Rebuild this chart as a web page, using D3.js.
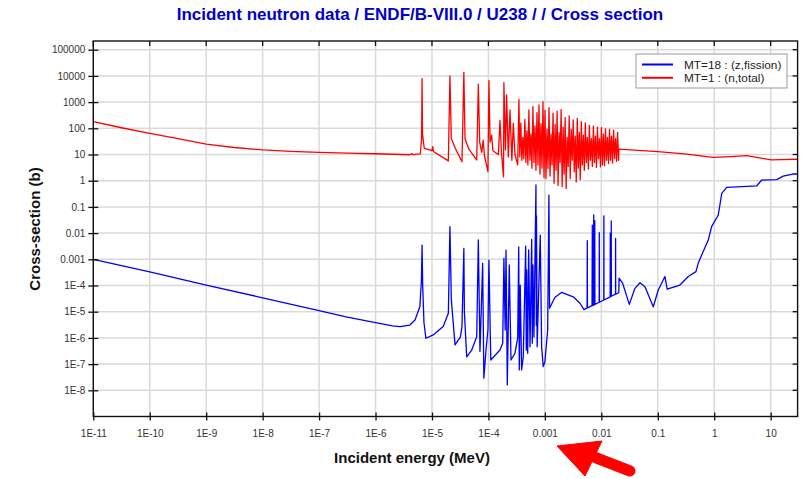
<!DOCTYPE html>
<html><head><meta charset="utf-8">
<script src="https://cdn.jsdelivr.net/npm/d3@7"></script>
<style>body{margin:0;background:#fff;}svg{display:block;}</style>
</head><body>
<svg id="chart" width="805" height="479"></svg>
<script>
// ---------- data ----------
const chartTitle = "Incident neutron data / ENDF/B-VIII.0 / U238 / / Cross section";
const xAxisTitle = "Incident energy (MeV)";
const yAxisTitle = "Cross-section (b)";
const seriesNames = ["MT=18 : (z,fission)", "MT=1 : (n,total)"];
const seriesColors = ["#0000ff", "#ff0000"];

const xTickValues = [1e-11,1e-10,1e-9,1e-8,1e-7,1e-6,1e-5,1e-4,1e-3,1e-2,1e-1,1,10];
const xTickLabels = ["1E-11","1E-10","1E-9","1E-8","1E-7","1E-6","1E-5","1E-4","0.001","0.01","0.1","1","10"];
const yTickValues = [1e-8,1e-7,1e-6,1e-5,1e-4,1e-3,1e-2,1e-1,1,10,100,1000,10000,100000];
const yTickLabels = ["1E-8","1E-7","1E-6","1E-5","1E-4","0.001","0.01","0.1","1","10","100","1000","10000","100000"];

// MT=18 fission cross section [energy MeV, barns]
const fissionPoints = [
 [1e-11,1.0e-3],[1e-10,3.3e-4],[1e-9,1.04e-4],[1e-8,3.4e-5],[1e-7,1.09e-5],[3e-7,6.4e-6],[1e-6,3.8e-6],
 [2e-6,2.9e-6],[2.71e-6,2.7e-6],[4.07e-6,3.1e-6],[5.0e-6,4.8e-6],[6.1e-6,1.55e-5],[6.5e-6,1.5e-4],[6.67e-6,3.5e-3],
 [6.85e-6,1.0e-4],[7.2e-6,4e-6],[7.8e-6,9.7e-7],[1.05e-5,1.3e-6],[1.58e-5,2.7e-6],[1.95e-5,8.7e-6],
 [2.08e-5,1.76e-2],[2.2e-5,3e-5],[2.56e-5,5.4e-7],[3.19e-5,1.1e-6],[3.4e-5,2.7e-6],[3.67e-5,2.6e-3],
 [3.75e-5,1e-5],[4.12e-5,1.9e-7],[5.05e-5,3.45e-7],[6.2e-5,1.1e-6],[6.62e-5,5.5e-3],[7.08e-5,3.0e-7],
 [7.9e-5,7.0e-4],[8.3e-5,2.9e-8],[9.06e-5,3.45e-7],[9.8e-5,2e-6],[1.02e-4,9.3e-4],[1.1e-4,1.43e-7],
 [1.6e-4,3.45e-7],[1.79e-4,6.2e-7],[1.88e-4,1.09e-3],[1.98e-4,2e-6],[2.05e-4,2.26e-3],[2.16e-4,1.6e-8],
 [2.34e-4,6.1e-4],[2.51e-4,1.43e-7],[2.95e-4,2.6e-7],[3.3e-4,1e-6],[3.44e-4,3.0e-3],[3.52e-4,6e-8],
 [3.66e-4,1.04e-4],[3.87e-4,6e-8],[4.14e-4,1.9e-7],[4.57e-4,3.2e-3],[4.68e-4,3.4e-7],[4.76e-4,3.9e-4],
 [4.96e-4,2.6e-7],[5.16e-4,2.3e-3],[5.46e-4,4.6e-7],[5.84e-4,5.8e-3],[5.98e-4,6.2e-7],[6.15e-4,6.1e-4],
 [6.4e-4,1.1e-6],[6.95e-4,0.685],[7.05e-4,3e-6],[7.1e-4,0.045],[7.3e-4,4.6e-7],[8.28e-4,8.4e-3],
 [8.76e-4,4.6e-7],[9.35e-4,8e-8],[1.0e-3,1.2e-7],[1.12e-3,2e-6],[1.18e-3,0.284],[1.21e-3,1.35e-5],
 [1.5e-3,3.5e-5],[1.99e-3,5.5e-5],[3.18e-3,3.7e-5],[4.19e-3,2.1e-5],[4.93e-3,1.2e-5],
 [5.6e-3,1.4e-5],[5.64e-3,5.2e-3],[5.68e-3,1.4e-5],
 [6.85e-3,1.7e-5],[6.92e-3,0.02],[6.97e-3,1.7e-5],
 [7.28e-3,1.8e-5],[7.33e-3,0.05],[7.38e-3,1.8e-5],
 [7.6e-3,1.9e-5],[7.65e-3,0.03],[7.7e-3,1.9e-5],
 [9.15e-3,2.3e-5],[9.2e-3,0.0103],[9.25e-3,2.3e-5],
 [1.105e-2,2.8e-5],[1.11e-2,0.045],[1.115e-2,2.8e-5],
 [1.435e-2,3.7e-5],[1.44e-2,0.01],[1.445e-2,3.7e-5],
 [1.495e-2,3.9e-5],[1.50e-2,0.029],[1.505e-2,3.9e-5],
 [1.785e-2,4.7e-5],[1.79e-2,6.3e-3],[1.795e-2,4.7e-5],
 [2.04e-2,5.3e-5],[2.06e-2,1.9e-4],[2.39e-2,1.2e-4],[3.13e-2,1.9e-5],[3.94e-2,7.8e-5],[4.84e-2,1.28e-4],
 [5.93e-2,9e-5],[8.32e-2,1.55e-5],[0.102,6.7e-5],[0.134,2.2e-4],[0.147,7.2e-5],[0.247,1.04e-4],
 [0.347,2.2e-4],[0.475,3.4e-4],[0.52,7e-4],[0.6,1.46e-3],[0.785,5.5e-3],[0.9,0.0176],[1.18,0.049],
 [1.36,0.33],[1.66,0.56],[5.65,0.63],[6.93,1.06],[12.8,1.1],[16.7,1.5],[24.8,1.8],[30,1.8]
];

// MT=1 total cross section, smooth + isolated resonances
const totalLowPoints = [
 [1e-11,179],[3.16e-11,105],[1e-10,64],[3.16e-10,40],[1e-9,25],[3.16e-9,18.5],[1e-8,14.9],[3.16e-8,13.2],
 [1e-7,12.1],[3.16e-7,11.3],[1e-6,10.7],[4.07e-6,9.8],[4.4e-6,11],[4.6e-6,9.9],
 [6.2e-6,10.5],[6.55e-6,40],[6.67e-6,8000],[6.8e-6,60],[7.3e-6,17],[1.0e-5,14],[1.03e-5,20],[1.06e-5,13],
 [1.95e-5,5.7],[2.08e-5,10000],[2.2e-5,40],[2.6e-5,17],[3.4e-5,5.3],[3.67e-5,13700],[3.85e-5,40],[4.5e-5,16],
 [6.2e-5,6.2],[6.62e-5,4800],[7.0e-5,30],[7.6e-5,12],[8.08e-5,35],[8.5e-5,9],[9.8e-5,2.2],[1.02e-4,6600],
 [1.07e-4,30],[1.14e-4,55],[1.2e-4,14],[1.5e-4,10],[1.6e-4,200],[1.7e-4,12],[1.85e-4,1.4],[1.88e-4,5500],
 [2.0e-4,15],[2.1e-4,1870],[2.25e-4,8],[2.41e-4,500],[2.6e-4,6],[2.76e-4,155],[2.95e-4,10],[3.3e-4,4],[3.47e-4,1270]
];
// MT=1 total, dense resolved resonance region
const totalDensePoints = [
 [3.60e-4,8],[3.75e-4,160],[3.91e-4,6],[4.07e-4,45],[4.24e-4,7],[4.42e-4,220],[4.61e-4,5],[4.80e-4,80],
 [5.00e-4,4],[5.21e-4,500],[5.43e-4,6],[5.66e-4,60],[5.90e-4,3],[6.14e-4,680],[6.40e-4,5],[6.67e-4,120],
 [6.95e-4,2.5],[7.24e-4,400],[7.54e-4,4],[7.86e-4,780],[8.19e-4,1.8],[8.53e-4,150],[8.89e-4,3],[9.26e-4,1050],
 [9.65e-4,1.3],
 [1.005e-3,480],[1.047e-3,1.2],[1.091e-3,90],[1.137e-3,3],[1.185e-3,620],[1.234e-3,1.5],[1.286e-3,60],[1.340e-3,4],
 [1.396e-3,380],[1.455e-3,0.8],[1.516e-3,140],[1.580e-3,2.5],[1.646e-3,450],[1.715e-3,0.65],[1.787e-3,70],[1.862e-3,5],
 [1.940e-3,520],[2.022e-3,0.6],[2.107e-3,110],[2.195e-3,1.8],[2.287e-3,260],[2.383e-3,0.5],[2.483e-3,45],[2.588e-3,3.5],
 [2.696e-3,300],[2.810e-3,1.2],[2.928e-3,90],[3.050e-3,6],[3.178e-3,210],[3.312e-3,2.2],[3.451e-3,50],[3.596e-3,0.9],
 [3.747e-3,240],[3.904e-3,3],[4.068e-3,70],[4.239e-3,1.1],[4.417e-3,180],[4.603e-3,4],[4.796e-3,55],[4.998e-3,2.5],
 [5.208e-3,160],[5.426e-3,5],[5.654e-3,45],[5.892e-3,2.8],[6.139e-3,130],[6.397e-3,6],[6.666e-3,40],[6.946e-3,3.5],
 [7.238e-3,120],[7.542e-3,5],[7.859e-3,50],[8.189e-3,3.2],[8.533e-3,110],[8.891e-3,7],[9.265e-3,40],[9.654e-3,3.4],
 [1.006e-2,105],[1.048e-2,4],[1.092e-2,60],[1.138e-2,3.8],[1.186e-2,95],[1.236e-2,6],[1.288e-2,45],[1.342e-2,4.5],
 [1.398e-2,90],[1.457e-2,6],[1.518e-2,50],[1.582e-2,4.8],[1.648e-2,85],[1.717e-2,7],[1.789e-2,40],[1.865e-2,5.5],
 [1.943e-2,70],[2.02e-2,6]
];
// MT=1 total, fast region
const totalHighPoints = [
 [2.05e-2,16],[0.1,12.8],[0.3,10.5],[0.95,7.8],[2,8.3],[3.76,9.0],[10.4,6.2],[15,6.4],[30,6.6]
];

// ---------- drawing ----------
const svg = d3.select("#chart");
const L = 93.3, R = 797.6, T = 41, B = 416.5;
const x = d3.scaleLog().domain([1e-11, 30]).range([L, R]);
const y = d3.scaleLog().domain([1e-9, 2.15e5]).range([B, T]);
const font = "'Liberation Sans', Arial, sans-serif";

svg.append("rect").attr("width",805).attr("height",479).attr("fill","#fff");

// grid
const grid = svg.append("g").attr("stroke","#d9d9d9").attr("stroke-width",1.5);
xTickValues.forEach(v => grid.append("line").attr("x1",x(v)).attr("x2",x(v)).attr("y1",T).attr("y2",B));
yTickValues.forEach(v => grid.append("line").attr("x1",L).attr("x2",R).attr("y1",y(v)).attr("y2",y(v)));

// clip
svg.append("clipPath").attr("id","plotclip").append("rect")
  .attr("x",L).attr("y",T).attr("width",R-L).attr("height",B-T);

const line = d3.line().x(d => x(d[0])).y(d => y(d[1]));
const plot = svg.append("g").attr("clip-path","url(#plotclip)");
const totalPoints = totalLowPoints.concat(totalDensePoints, totalHighPoints);
plot.append("path").datum(totalPoints).attr("d",line)
  .attr("fill","none").attr("stroke",seriesColors[1]).attr("stroke-width",1.3).attr("stroke-linejoin","round");
plot.append("path").datum(fissionPoints).attr("d",line)
  .attr("fill","none").attr("stroke",seriesColors[0]).attr("stroke-width",1.3).attr("stroke-linejoin","round");

// frame
svg.append("rect").attr("x",L).attr("y",T).attr("width",R-L).attr("height",B-T)
  .attr("fill","none").attr("stroke","#111").attr("stroke-width",1.4);

// axes (labels via d3 axes, ticks crossing the axis line)
const xAxis = d3.axisBottom(x).tickValues(xTickValues)
  .tickFormat((d,i) => xTickLabels[i]).tickSize(4).tickPadding(9);
const gx = svg.append("g").attr("transform",`translate(0,${B})`).call(xAxis);
gx.select(".domain").remove();
gx.selectAll(".tick line").attr("stroke","#111").attr("stroke-width",1.3).attr("y1",-4);
gx.selectAll("text").attr("font-family",font).attr("font-size",10).attr("fill","#333");

const yAxis = d3.axisLeft(y).tickValues(yTickValues)
  .tickFormat((d,i) => yTickLabels[i]).tickSize(5).tickPadding(3);
const gy = svg.append("g").attr("transform",`translate(${L},0)`).call(yAxis);
gy.select(".domain").remove();
gy.selectAll(".tick line").attr("stroke","#111").attr("stroke-width",1.3).attr("x1",5);
gy.selectAll("text").attr("font-family",font).attr("font-size",10).attr("fill","#333");

// top & right inward ticks
const tk = svg.append("g").attr("stroke","#111").attr("stroke-width",1.3);
xTickValues.forEach(v => tk.append("line").attr("x1",x(v)).attr("x2",x(v)).attr("y1",T).attr("y2",T+5));
yTickValues.forEach(v => tk.append("line").attr("x1",R-5).attr("x2",R).attr("y1",y(v)).attr("y2",y(v)));

// titles
svg.append("text").attr("x",420).attr("y",20).attr("text-anchor","middle")
  .attr("font-family",font).attr("font-weight","bold").attr("font-size",17).attr("fill","#0000cc")
  .text(chartTitle);
svg.append("text").attr("x",412).attr("y",463).attr("text-anchor","middle")
  .attr("font-family",font).attr("font-weight","bold").attr("font-size",15).attr("fill","#111")
  .text(xAxisTitle);
svg.append("text").attr("transform",`translate(40,229) rotate(-90)`).attr("text-anchor","middle")
  .attr("font-family",font).attr("font-weight","bold").attr("font-size",15).attr("fill","#111")
  .text(yAxisTitle);

// legend
const lg = svg.append("g");
lg.append("rect").attr("x",636).attr("y",54).attr("width",151).attr("height",34)
  .attr("fill","#fff").attr("stroke","#999").attr("stroke-width",1);
seriesNames.forEach((n,i) => {
  const yy = 64.5 + i*13.3;
  lg.append("line").attr("x1",642).attr("x2",673).attr("y1",yy).attr("y2",yy)
    .attr("stroke",seriesColors[i]).attr("stroke-width",2);
  lg.append("text").attr("x",684).attr("y",yy+4).attr("font-family",font).attr("font-size",11.8)
    .attr("fill","#222").text(n);
});

// annotation arrow
const ar = svg.append("g").attr("fill","#ff0000").attr("stroke","#ff0000");
ar.append("line").attr("x1",594).attr("y1",457).attr("x2",630).attr("y2",471)
  .attr("stroke-width",11).attr("stroke-linecap","round");
ar.append("path").attr("d","M557,446 L602,441 L585,476 Z").attr("stroke-width",1).attr("stroke-linejoin","round");
</script>
</body></html>
